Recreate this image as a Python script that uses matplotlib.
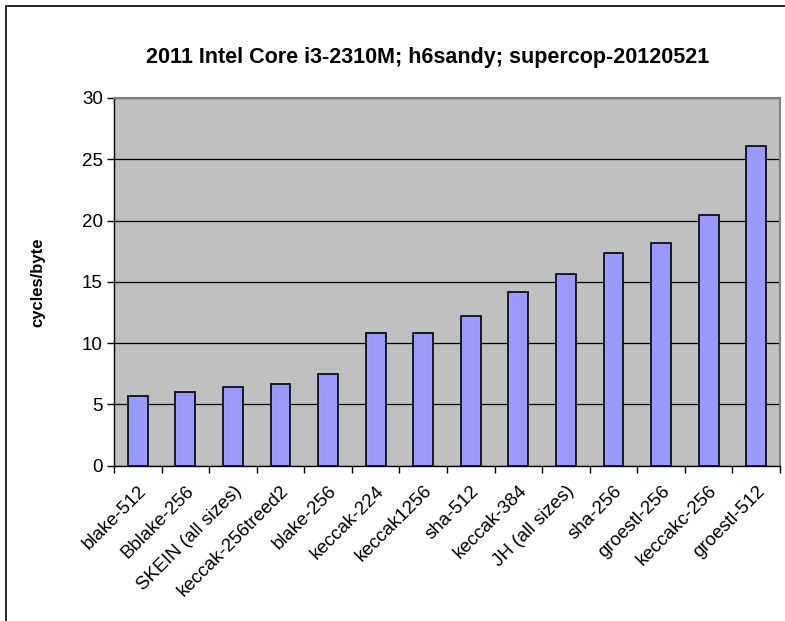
import matplotlib
matplotlib.use("Agg")
import matplotlib.pyplot as plt
from matplotlib.patches import Rectangle
import numpy as np

plt.rcParams['font.family'] = ['Liberation Sans', 'DejaVu Sans']

names = ["blake-512", "Bblake-256", "SKEIN (all sizes)", "keccak-256treed2",
         "blake-256", "keccak-224", "keccak1256", "sha-512", "keccak-384",
         "JH (all sizes)", "sha-256", "groestl-256", "keccakc-256", "groestl-512"]
cycles = [5.7, 6.05, 6.4, 6.65, 7.5, 10.8, 10.8, 12.25, 14.15, 15.6,
          17.35, 18.2, 20.45, 26.05]

fig = plt.figure(figsize=(7.85, 6.21), dpi=100)
W, H = 785, 621
ax = fig.add_axes([114 / W, 1 - 465.7 / H, (780 - 114) / W, (465.7 - 98) / H])

x = np.arange(len(names))
ax.set_facecolor('#C0C0C0')
ax.bar(x, cycles, width=0.42, color='#9999FF', edgecolor='black',
       linewidth=1.2, zorder=3)

ax.set_xlim(-0.5, len(names) - 0.5)
ax.set_ylim(0, 30)
ax.set_yticks(range(0, 31, 5))
ax.yaxis.grid(True, color='black', linewidth=0.9, zorder=1)
ax.set_axisbelow(True)

# category ticks sit between the bars
ax.set_xticks(np.arange(-0.5, len(names), 1.0))
ax.set_xticklabels([])
ax.set_xticks(x, minor=True)
ax.set_xticklabels(names, minor=True, rotation=45, ha='right',
                   rotation_mode='anchor', fontsize=13.5)
ax.tick_params(axis='x', which='minor', length=0, pad=12)
ax.tick_params(axis='x', which='major', length=5, width=1, direction='out')
ax.tick_params(axis='y', length=5, width=1, labelsize=13.5, pad=3)

for side in ['top', 'right']:
    ax.spines[side].set_color('#808080')
    ax.spines[side].set_linewidth(1.5)
for side in ['left', 'bottom']:
    ax.spines[side].set_color('black')
    ax.spines[side].set_linewidth(1)

ax.set_ylabel('cycles/byte', fontsize=12, fontweight='bold', labelpad=26)
fig.text(428 / W, 1 - 58 / H, '2011 Intel Core i3-2310M; h6sandy; supercop-20120521',
         ha='center', va='center', fontsize=15.5, fontweight='bold')

# outer chart frame
fig.patches.append(Rectangle((6 / W, -0.1), 1.2, 1.1 - 6 / H,
                             transform=fig.transFigure, fill=False,
                             edgecolor='black', linewidth=1.2))

fig.savefig('out.png', dpi=100)
